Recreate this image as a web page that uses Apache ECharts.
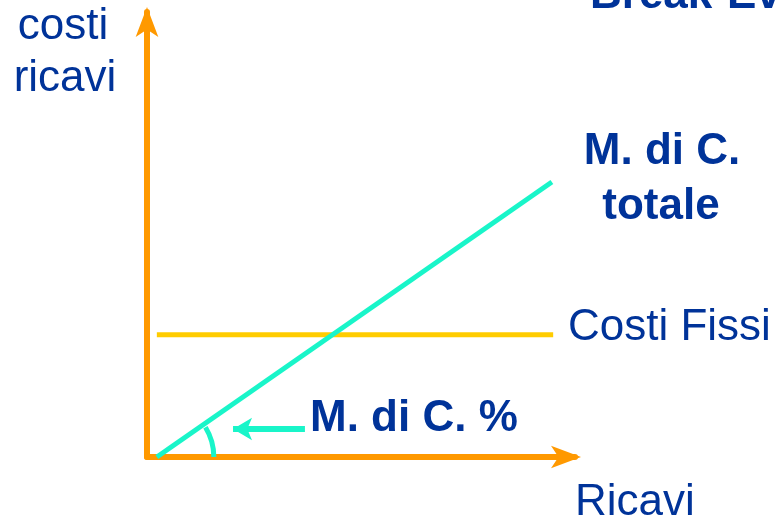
<!DOCTYPE html>
<html>
<head>
<meta charset="utf-8">
<script src="https://cdn.jsdelivr.net/npm/echarts@6/dist/echarts.min.js"></script>
<style>
  html, body { margin: 0; padding: 0; background: #fff; }
  #main { width: 779px; height: 522px; }
</style>
</head>
<body>
<div id="main"></div>
<script>
// punti delle linee (unità di asse 0..100)
const margineTotale = [[2.3, 0], [94.6, 61.8]];
const costiFissi = [[2.3, 27.5], [94.9, 27.5]];
const frecciaMdc = [[36.9, 6.3], [20.1, 6.3]];

const blu = "#003399";
const font = "'Liberation Sans', Arial, sans-serif";

var chartDom = document.getElementById("main");
var myChart = echarts.init(chartDom);

function testo(str, x, y, bold, align) {
  return {
    type: "text",
    x: x,
    y: y,
    style: {
      text: str,
      fill: blu,
      font: (bold ? "bold " : "") + "44px " + font,
      textAlign: align || "left",
      textVerticalAlign: "middle",
    },
  };
}

var option = {
  animation: false,
  grid: { left: 147, right: 204, top: 12, bottom: 65 },
  xAxis: {
    type: "value",
    min: 0,
    max: 100,
    axisLine: {
      lineStyle: { color: "#FF9900", width: 6 },
      symbol: ["none", "arrow"],
      symbolSize: [17, 30],
      symbolOffset: [0, 6],
    },
    axisTick: { show: false },
    axisLabel: { show: false },
    splitLine: { show: false },
  },
  yAxis: {
    type: "value",
    min: 0,
    max: 100,
    axisLine: {
      show: true,
      lineStyle: { color: "#FF9900", width: 6 },
      symbol: ["none", "arrow"],
      symbolSize: [17, 30],
      symbolOffset: [0, 5],
    },
    axisTick: { show: false },
    axisLabel: { show: false },
    splitLine: { show: false },
  },
  series: [
    {
      name: "Costi Fissi",
      type: "line",
      data: costiFissi,
      showSymbol: false,
      lineStyle: { color: "#FFCC00", width: 5 },
    },
    {
      name: "M. di C. totale",
      type: "line",
      data: margineTotale,
      showSymbol: false,
      lineStyle: { color: "#19F5C9", width: 5 },
    },
    {
      name: "freccia",
      type: "line",
      data: [
        { value: frecciaMdc[0], symbol: "none" },
        { value: frecciaMdc[1], symbol: "arrow", symbolSize: [17, 19], symbolRotate: 90 },
      ],
      showSymbol: true,
      itemStyle: { color: "#19F5C9" },
      lineStyle: { color: "#19F5C9", width: 6 },
    },
  ],
};
option && myChart.setOption(option);

var o = myChart.convertToPixel({ gridIndex: 0 }, margineTotale[0]);
myChart.setOption({
  graphic: [
    {
      type: "arc",
      shape: { cx: o[0], cy: o[1], r: 57, startAngle: -0.55, endAngle: 0 },
      style: { stroke: "#19F5C9", lineWidth: 5, fill: null },
      z: 10,
    },
    testo("costi", 63, 27, false, "center"),
    testo("ricavi", 65, 78.5, false, "center"),
    testo("Break-Even", 590, -4, true),
    testo("M. di C.", 662, 151.5, true, "center"),
    testo("totale", 661, 206.5, true, "center"),
    testo("Costi Fissi", 568, 328, false),
    testo("M. di C. %", 310, 419, true),
    testo("Ricavi", 575, 503, false),
  ],
});
</script>
</body>
</html>
